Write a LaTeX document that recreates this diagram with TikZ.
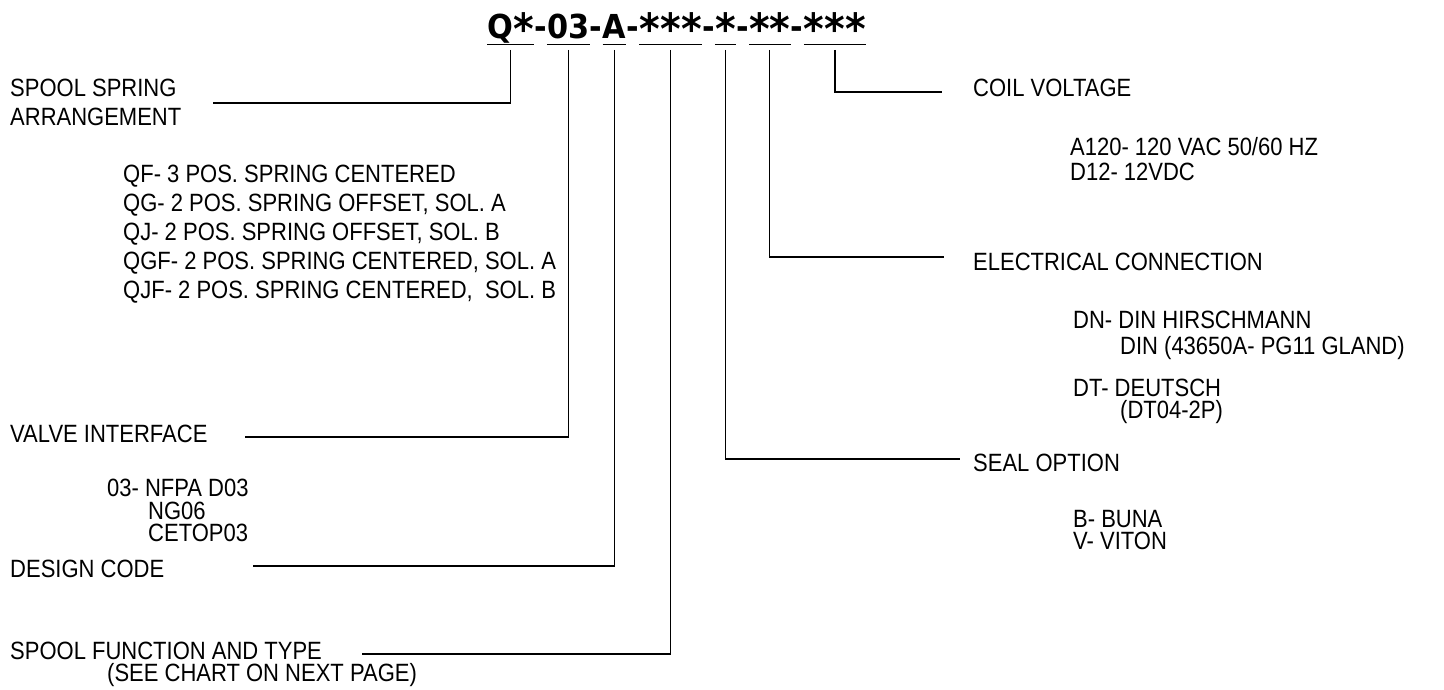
\documentclass[tikz,border=0pt]{standalone}
\usepackage{fontspec}
\setmainfont{Liberation Sans}[FakeStretch=0.88]
\newfontfamily\codefont{DejaVu Sans}[FakeStretch=0.92]
\newcommand{\cstar}{\raisebox{-6pt}{\fontsize{43}{43}\selectfont *}}
\usetikzlibrary{positioning}
\tikzset{
	x=1pt, y=1pt, % one unit is one pixel of the sheet
	label/.style={anchor=west, inner sep=0pt, align=left, font=\fontsize{25}{29}\selectfont}, % texts beside the leaders
	code/.style={inner sep=0pt, font=\codefont\bfseries\fontsize{33}{33}\selectfont}, % parts of the model code
	leader/.style={line width=1.2pt}, % lines from the code to the texts
	uline/.style={line width=0.9pt}, % short lines under the code
}

\begin{document}
\begin{tikzpicture}
	\useasboundingbox (0,0) rectangle (1444,-690);

	% model code
	\node[code, anchor=base west] (cQ) at (487,-39) {Q\cstar};
	\node[code, base right=0pt of cQ] (h1) {-};
	\node[code, base right=0pt of h1] (c03) {03};
	\node[code, base right=0pt of c03] (h2) {-};
	\node[code, base right=0pt of h2] (cA) {A};
	\node[code, base right=0pt of cA] (h3) {-};
	\node[code, base right=0pt of h3] (cFn) {\cstar\cstar\cstar};
	\node[code, base right=0pt of cFn] (h4) {-};
	\node[code, base right=0pt of h4] (cSeal) {\cstar};
	\node[code, base right=0pt of cSeal] (h5) {-};
	\node[code, base right=0pt of h5] (cElec) {\cstar\cstar};
	\node[code, base right=0pt of cElec] (h6) {-};
	\node[code, base right=0pt of h6] (cCoil) {\cstar\cstar\cstar};

	\coordinate (ul) at (0,-44);
	\coordinate (tk) at (0,-50);
	\foreach \c in {cQ,c03,cA,cFn,cSeal,cElec,cCoil}
		\draw[uline] (\c.west |- ul) -- (\c.east |- ul);

	% left side
	\node[label] (spool) at (10,-102.5) {SPOOL SPRING\\ARRANGEMENT};
	\node[label] (qlist) at (123,-234) {QF- 3 POS. SPRING CENTERED\\QG- 2 POS. SPRING OFFSET, SOL. A\\QJ- 2 POS. SPRING OFFSET, SOL. B\\QGF- 2 POS. SPRING CENTERED, SOL. A\\QJF- 2 POS. SPRING CENTERED,\ \ SOL. B};
	\node[label] (valve) at (10,-434) {VALVE INTERFACE};
	\node[label, font=\fontsize{25}{22.5}\selectfont] (iface) at (107,-510.5) {03- NFPA D03\\\hspace*{41pt}NG06\\\hspace*{41pt}CETOP03};
	\node[label] (design) at (10,-569) {DESIGN CODE};
	\node[label, font=\fontsize{25}{22}\selectfont] (spfunc) at (10,-664) {SPOOL FUNCTION AND TYPE\\\hspace*{97pt}(SEE CHART ON NEXT PAGE)};

	% right side
	\node[label] (coil) at (973,-88) {COIL VOLTAGE};
	\node[label, font=\fontsize{25}{25}\selectfont] (volts) at (1070,-159.5) {A120- 120 VAC 50/60 HZ\\D12- 12VDC};
	\node[label] (elec) at (973,-262) {ELECTRICAL CONNECTION};
	\node[label, font=\fontsize{25}{26}\selectfont] (dn) at (1073,-335) {DN- DIN HIRSCHMANN\\\hspace*{47pt}DIN (43650A- PG11 GLAND)};
	\node[label, font=\fontsize{25}{22}\selectfont] (dt) at (1073,-401.5) {DT- DEUTSCH\\\hspace*{47pt}(DT04-2P)};
	\node[label] (seal) at (973,-463) {SEAL OPTION};
	\node[label, font=\fontsize{25}{22}\selectfont] (seals) at (1073,-530) {B- BUNA\\V- VITON};

	% ends of the leaders
	\coordinate (lQ) at (213,-103);
	\coordinate (l03) at (245,-437);
	\coordinate (lA) at (253,-566);
	\coordinate (lFn) at (362,-654);
	\coordinate (lSeal) at (960,-459);
	\coordinate (lElec) at (944,-257);
	\coordinate (lCoil) at (942,-92);

	% leaders
	\draw[leader] (cQ |- tk) |- (lQ);
	\draw[leader] (c03 |- tk) |- (l03);
	\draw[leader] (cA |- tk) |- (lA);
	\draw[leader] (cFn |- tk) |- (lFn);
	\draw[leader] (cSeal |- tk) |- (lSeal);
	\draw[leader] (cElec |- tk) |- (lElec);
	\draw[leader] (cCoil |- tk) |- (lCoil);
\end{tikzpicture}
\end{document}
